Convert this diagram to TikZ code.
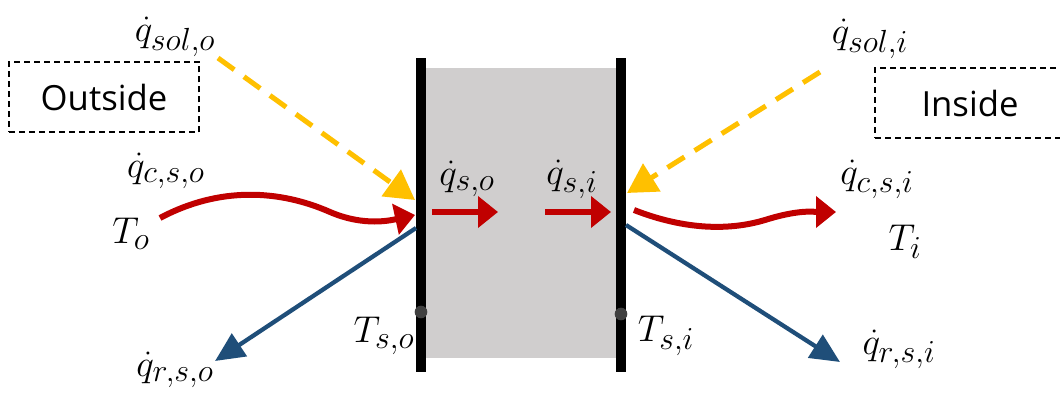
\RequirePackage{fix-cm}
\documentclass[tikz,border=0pt]{standalone}
\usepackage{fontspec}
\newfontfamily\boxfont{Open Sans}
\DeclareMathSizes{28}{28}{24}{17}
\usetikzlibrary{arrows.meta}
\definecolor{cred}{HTML}{C00000}
\definecolor{cyel}{HTML}{FFC000}
\definecolor{cblue}{HTML}{1F4E79}
\definecolor{cgray}{HTML}{D0CECE}
\definecolor{cdot}{HTML}{404040}
\begin{document}
\begin{tikzpicture}[x=0.75pt,y=-0.75pt,
  lbl/.style={inner sep=0pt,font=\fontsize{28}{32}\selectfont},
  region/.style={draw=black,dashed,line width=1.4pt,dash pattern=on 4.5pt off 3pt,minimum width=142.5pt,minimum height=53pt,font=\boxfont\fontsize{26}{30}\selectfont,inner sep=0pt},
  wall/.style={line width=8pt,black},
  heat/.style={cred,line width=4.5pt,-{Triangle[length=15pt,width=23pt]}},
  solar/.style={cyel,line width=3.8pt,dash pattern=on 15pt off 9pt,-{Triangle[length=22pt,width=24pt]}},
  rad/.style={cblue,line width=3.2pt,-{Triangle[length=22pt,width=20pt]}},
  tdot/.style={circle,fill=cdot,inner sep=0pt,minimum size=9.5pt}]
\useasboundingbox (0,0) rectangle (1060,396);
% slab
\fill[cgray] (426,68) rectangle (616,358);
\coordinate (wLt) at (421,58); \coordinate (wLb) at (421,372);
\coordinate (wRt) at (621,58); \coordinate (wRb) at (621,372);
\draw[wall] (wLt) -- (wLb);
\draw[wall] (wRt) -- (wRb);
\node[tdot] (dL) at (421,312) {};
\node[tdot] (dR) at (621,314) {};
% region boxes
\node[region] (out) at (104,97) {Outside};
\node[region] (in) at (970,103) {Inside};
% labels
\node[lbl] (qsolo) at (175,37) {$\dot{q}_{sol,o}$};
\node[lbl] (qcso) at (166,171) {$\dot{q}_{c,s,o}$};
\node[lbl] (To) at (131,234) {$T_o$};
\node[lbl] (qrso) at (175,370) {$\dot{q}_{r,s,o}$};
\node[lbl] (Tso) at (384,336) {$T_{s,o}$};
\node[lbl] (qso) at (467,179) {$\dot{q}_{s,o}$};
\node[lbl] (qsi) at (572,179) {$\dot{q}_{s,i}$};
\node[lbl] (qsoli) at (870,39) {$\dot{q}_{sol,i}$};
\node[lbl] (qcsi) at (877,179) {$\dot{q}_{c,s,i}$};
\node[lbl] (Ti) at (905,242) {$T_i$};
\node[lbl] (qrsi) at (899,349) {$\dot{q}_{r,s,i}$};
\node[lbl] (Tsi) at (666,336) {$T_{s,i}$};
% anchor coordinates
\coordinate (solLs) at (218,58);  \coordinate (solLe) at (415,200);
\coordinate (solRs) at (820,72);  \coordinate (solRe) at (627,193);
\coordinate (cLs) at (160,218);   \coordinate (cLe) at (415,215);
\coordinate (cRs) at (634,210);   \coordinate (cRe) at (836,212);
\coordinate (rLs) at (416,228);   \coordinate (rLe) at (215,361);
\coordinate (rRs) at (626,225);   \coordinate (rRe) at (840,362);
\coordinate (k1s) at (432,212);   \coordinate (k1e) at (498,212);
\coordinate (k2s) at (545,212);   \coordinate (k2e) at (611,212);
% arrows
\draw[solar] (solLs) -- (solLe);
\draw[solar] (solRs) -- (solRe);
\draw[rad] (rLs) -- (rLe);
\draw[rad] (rRs) -- (rRe);
\draw[heat] (cLs) .. controls (220,186) and (280,190) .. (330,212) .. controls (365,227) and (392,220) .. (cLe);
\draw[heat] (cRs) .. controls (680,228) and (725,232) .. (765,220) .. controls (800,209) and (815,212) .. (cRe);
\draw[heat] (k1s) -- (k1e);
\draw[heat] (k2s) -- (k2e);
\end{tikzpicture}
\end{document}
